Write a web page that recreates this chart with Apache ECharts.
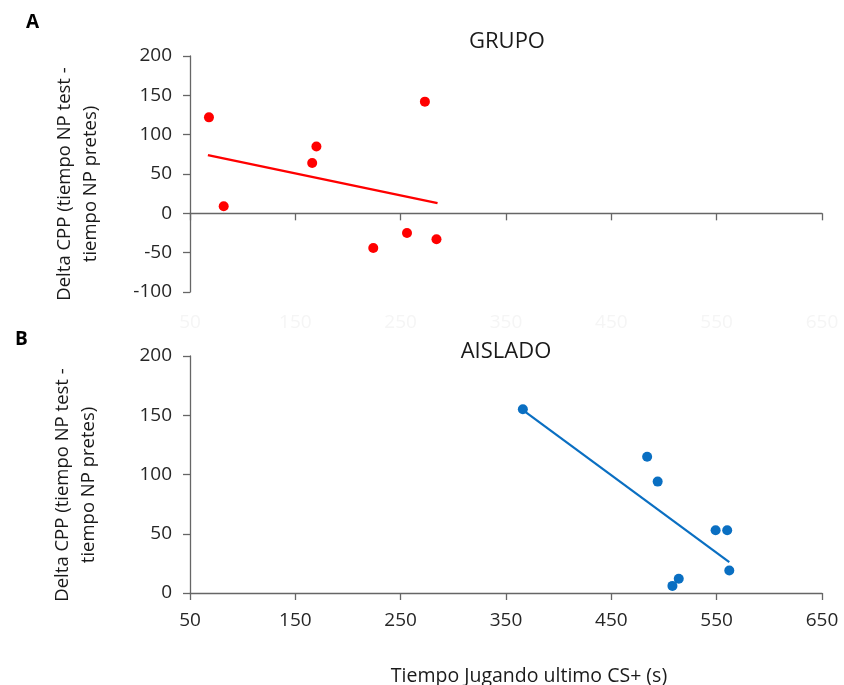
<!DOCTYPE html>
<html>
<head>
<meta charset="utf-8">
<script src="https://cdn.jsdelivr.net/npm/echarts@6/dist/echarts.min.js"></script>
<style>
  html, body { margin: 0; padding: 0; background: #fff; }
  #main { width: 844px; height: 685px; }
</style>
</head>
<body>
<div id="main"></div>
<script>
// datos
var xTicks = ['50', '150', '250', '350', '450', '550', '650'];

var grupoX = [68, 82, 166, 170, 224, 256, 273, 284];
var grupoY = [122, 9, 64, 85, -44, -25, 142, -33];
var grupoTrendX = [67, 285];
var grupoTrendY = [74, 13];

var aisladoX = [366, 484, 494, 549, 560, 562, 514, 508];
var aisladoY = [155, 115, 94, 53, 53, 19, 12, 6];
var aisladoTrendX = [368, 562];
var aisladoTrendY = [153, 26];

function pairs(xs, ys) {
    var out = [];
    for (var i = 0; i < xs.length; i++) out.push([xs[i], ys[i]]);
    return out;
}

var FONT = 'Open Sans';
var AXIS_COLOR = '#666666';
var LABEL_COLOR = '#262626';

var chart = echarts.init(document.getElementById('main'), null, { renderer: 'canvas' });

function yAxisBase(grid, min) {
    return {
        type: 'value', gridIndex: grid, min: min, max: 200, interval: 50,
        splitLine: { show: false },
        axisLine: { show: true, onZero: false, lineStyle: { color: AXIS_COLOR, width: 1.3 } },
        axisTick: { show: true, length: 7, lineStyle: { color: AXIS_COLOR, width: 1.3 } },
        axisLabel: { color: LABEL_COLOR, fontSize: 19, fontFamily: FONT, margin: 18 }
    };
}

var option = {
    backgroundColor: '#ffffff',
    animation: false,
    title: [
        { text: 'GRUPO', left: 502, top: 37, textAlign: 'center', textVerticalAlign: 'middle',
          textStyle: { fontSize: 22, fontWeight: 'normal', color: '#1a1a1a', fontFamily: FONT } },
        { text: 'AISLADO', left: 501, top: 347, textAlign: 'center', textVerticalAlign: 'middle',
          textStyle: { fontSize: 22, fontWeight: 'normal', color: '#1a1a1a', fontFamily: FONT } }
    ],
    grid: [
        { left: 190, top: 56, width: 632, height: 236 },
        { left: 190, top: 356, width: 632, height: 237 }
    ],
    xAxis: [
        {   // linea en y = 0 del panel A
            type: 'value', gridIndex: 0, min: 50, max: 650, interval: 100, position: 'top',
            splitLine: { show: false },
            axisLine: { show: true, onZero: true, lineStyle: { color: AXIS_COLOR, width: 1.3 } },
            axisTick: { show: true, inside: true, length: 7, lineStyle: { color: AXIS_COLOR, width: 1.3 } },
            axisLabel: { show: false }
        },
        {   // etiquetas casi invisibles del panel A
            type: 'value', gridIndex: 0, min: 50, max: 650, interval: 100, position: 'bottom',
            splitLine: { show: false },
            axisLine: { show: false, onZero: false },
            axisTick: { show: false },
            axisLabel: { color: '#f5f5f5', fontSize: 19, fontFamily: FONT, margin: 21,
                         formatter: function (v, i) { return xTicks[i]; } }
        },
        {
            type: 'value', gridIndex: 1, min: 50, max: 650, interval: 100,
            splitLine: { show: false },
            axisLine: { show: true, onZero: false, lineStyle: { color: AXIS_COLOR, width: 1.3 } },
            axisTick: { show: true, length: 7, lineStyle: { color: AXIS_COLOR, width: 1.3 } },
            axisLabel: { color: LABEL_COLOR, fontSize: 19, fontFamily: FONT, margin: 18,
                         formatter: function (v, i) { return xTicks[i]; } }
        }
    ],
    yAxis: [yAxisBase(0, -100), yAxisBase(1, 0)],
    graphic: [
        { type: 'text', left: 26, top: 13, style: { text: 'A', fontSize: 19, fontWeight: 'bold', fill: '#000', fontFamily: FONT } },
        { type: 'text', left: 15, top: 330, style: { text: 'B', fontSize: 19, fontWeight: 'bold', fill: '#000', fontFamily: FONT } },
        { type: 'text', x: 78, y: 184, rotation: Math.PI / 2,
          style: { text: 'Delta CPP (tiempo NP test -\ntiempo NP pretes)', align: 'center', verticalAlign: 'middle',
                   fontSize: 18.5, lineHeight: 26, fill: '#1a1a1a', fontFamily: FONT } },
        { type: 'text', x: 76, y: 485, rotation: Math.PI / 2,
          style: { text: 'Delta CPP (tiempo NP test -\ntiempo NP pretes)', align: 'center', verticalAlign: 'middle',
                   fontSize: 18.5, lineHeight: 26, fill: '#1a1a1a', fontFamily: FONT } },
        { type: 'text', x: 529, y: 676,
          style: { text: 'Tiempo Jugando ultimo CS+ (s)', align: 'center', verticalAlign: 'middle',
                   fontSize: 19.5, fill: '#1a1a1a', fontFamily: FONT } }
    ],
    series: [
        {
            name: 'grupo', type: 'scatter', xAxisIndex: 0, yAxisIndex: 0,
            symbolSize: 10, itemStyle: { color: '#ff0000', opacity: 1 },
            data: pairs(grupoX, grupoY)
        },
        {
            name: 'grupo tendencia', type: 'line', xAxisIndex: 0, yAxisIndex: 0,
            symbol: 'none', lineStyle: { color: '#ff0000', width: 2.5 },
            data: pairs(grupoTrendX, grupoTrendY)
        },
        {
            name: 'aislado', type: 'scatter', xAxisIndex: 2, yAxisIndex: 1,
            symbolSize: 10, itemStyle: { color: '#0a6fc2', opacity: 1 },
            data: pairs(aisladoX, aisladoY)
        },
        {
            name: 'aislado tendencia', type: 'line', xAxisIndex: 2, yAxisIndex: 1,
            symbol: 'none', lineStyle: { color: '#0a6fc2', width: 2.2 },
            data: pairs(aisladoTrendX, aisladoTrendY)
        }
    ]
};

chart.setOption(option);
</script>
</body>
</html>
